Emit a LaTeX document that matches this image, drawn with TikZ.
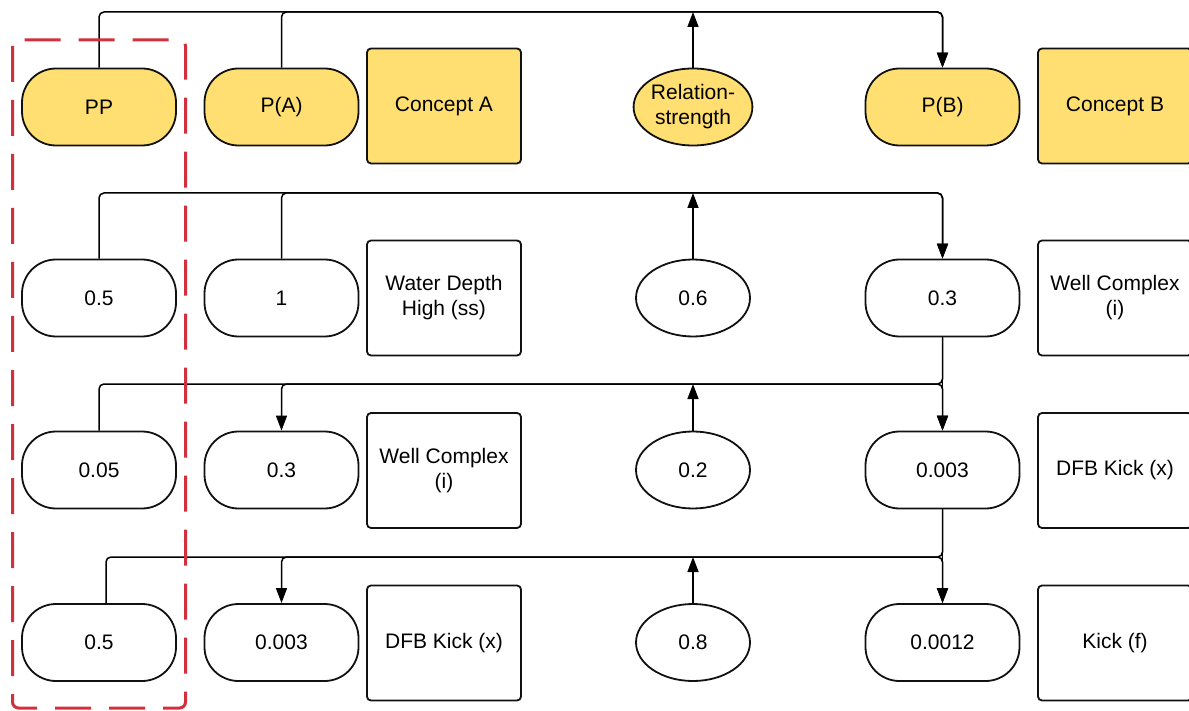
\documentclass[tikz,border=0pt]{standalone}
\usepackage{fontspec}
\setmainfont{Liberation Sans}
\usetikzlibrary{shapes.geometric,arrows.meta}
\definecolor{cyel}{HTML}{FFDF71}
\definecolor{cred}{HTML}{D1313D}
\definecolor{cline}{HTML}{111111}
\tikzset{
  base/.style={draw=cline, line width=1.8pt, inner sep=0pt, align=center,
    font=\fontsize{21}{25}\selectfont, text=black},
  term/.style={base, rectangle, rounded corners=34pt,
    minimum width=154pt, minimum height=77pt},
  ell/.style={base, ellipse, minimum width=114pt, minimum height=77pt},
  labelbox/.style={base, rectangle, rounded corners=4pt,
    minimum width=154pt, minimum height=115pt},
  hot/.style={fill=cyel},
  conn/.style={draw=black, line width=1.5pt, rounded corners=5pt},
  arr/.style={conn, -{Triangle[length=15pt,width=11pt]}},
  highlight/.style={draw=cred, line width=3pt, rounded corners=6pt,
    dash pattern=on 36pt off 18pt}
}
\begin{document}
\begin{tikzpicture}[x=1pt, y=-1pt]
\useasboundingbox (0,0) rectangle (1189,711);

% levels of the horizontal bus lines
\coordinate (t1) at (0,12);
\coordinate (t2) at (0,193);
\coordinate (t3) at (0,384);
\coordinate (t4) at (0,557);

% row 1: headings
\node[term,hot]     (pp1) at (99,107)   {PP};
\node[term,hot]     (pa1) at (281.5,107) {P(A)};
\node[labelbox,hot] (ca1) at (444,106)  {Concept A};
\node[ell,hot]      (rs1) at (693,107)  {Relation-\\strength};
\node[term,hot]     (pb1) at (942.5,107) {P(B)};
\node[labelbox,hot] (cb1) at (1115,106) {Concept B};

% row 2
\node[term]     (pp2) at (99,298)   {0.5};
\node[term]     (pa2) at (281.5,298) {1};
\node[labelbox] (ca2) at (444,298)  {Water Depth\\High (ss)};
\node[ell]      (rs2) at (693,298)  {0.6};
\node[term]     (pb2) at (942.5,298) {0.3};
\node[labelbox] (cb2) at (1115,298) {Well Complex\\(i)};

% row 3
\node[term]     (pp3) at (99,470)   {0.05};
\node[term]     (pa3) at (281.5,470) {0.3};
\node[labelbox] (ca3) at (444,470.5) {Well Complex\\(i)};
\node[ell]      (rs3) at (693,470)  {0.2};
\node[term]     (pb3) at (942.5,470) {0.003};
\node[labelbox] (cb3) at (1115,470.5) {DFB Kick (x)};

% row 4
\node[term]     (pp4) at (99,642.5)   {0.5};
\node[term]     (pa4) at (281.5,642.5) {0.003};
\node[labelbox] (ca4) at (444,643)  {DFB Kick (x)};
\node[ell]      (rs4) at (693,642.5)  {0.8};
\node[term]     (pb4) at (942.5,642.5) {0.0012};
\node[labelbox] (cb4) at (1115,643) {Kick (f)};

% row 1 connectors
\draw[arr] (pp1.north) |- (t1 -| pb1.north) -- (pb1.north);
\draw[arr] (pa1.north) |- (t1 -| pb1.north) -- (pb1.north);
\draw[arr] (rs1.north) -- (rs1.north |- t1);

% row 2 connectors
\draw[arr] (pp2.north) |- (t2 -| pb2.north) -- (pb2.north);
\draw[arr] (pa2.north) |- (t2 -| pb2.north) -- (pb2.north);
\draw[arr] (rs2.north) -- (rs2.north |- t2);

% row 3 connectors
\draw[arr] (pp3.north) |- (t3 -| pb3.north) -- (pb3.north);
\draw[arr] (pb2.south) -- (pb3.north);
\draw[arr] (pb2.south) |- (t3 -| pa3.north) -- (pa3.north);
\draw[arr] (rs3.north) -- (rs3.north |- t3);

% row 4 connectors
\draw[arr] ([xshift=7pt]pp4.north) |- (t4 -| pb4.north) -- (pb4.north);
\draw[arr] (pb3.south) -- (pb4.north);
\draw[arr] (pb3.south) |- (t4 -| pa4.north) -- (pa4.north);
\draw[arr] (rs4.north) -- (rs4.north |- t4);

% highlighted column
\draw[highlight] (12.5,40) rectangle (185.5,708);
\end{tikzpicture}
\end{document}
